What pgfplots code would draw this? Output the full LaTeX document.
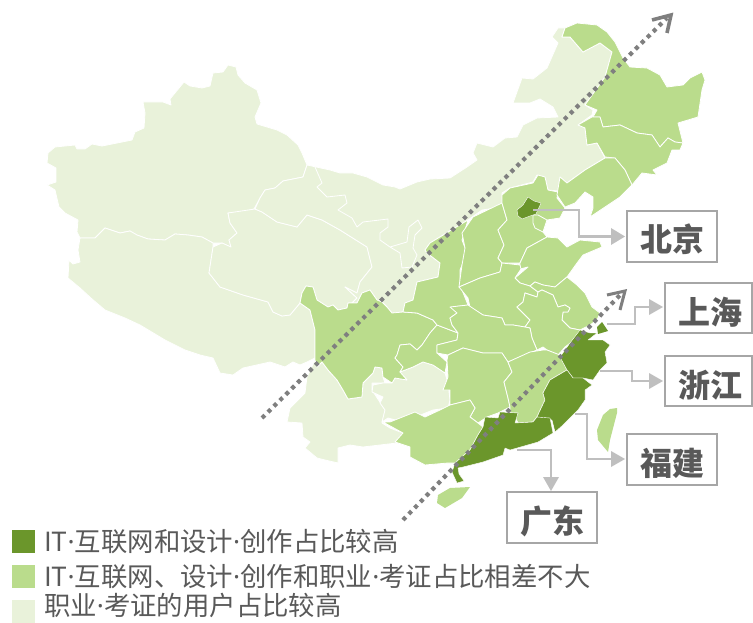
\documentclass[border=0pt]{standalone}
\usepackage{pgfplots}
\pgfplotsset{compat=1.18}
\usepackage{fontspec}
\setmainfont{Noto Sans CJK SC}
\newfontfamily\lat{Noto Sans}
\newcommand{\dd}{{\lat ·}}
\definecolor{dk}{HTML}{6B962B}
\definecolor{md}{HTML}{BADC8C}
\definecolor{pl}{HTML}{E9F2DA}
\definecolor{ld}{HTML}{BFBFBF}
\definecolor{bx}{HTML}{A6A6A6}
\definecolor{dt}{HTML}{7F7F7F}
\definecolor{tx}{HTML}{595959}
\pgfplotsset{
 pale/.style={fill=pl,draw=white,line width=0.8pt,no markers,line join=round},
 med/.style={fill=md,draw=white,line width=0.8pt,no markers,line join=round},
 dark/.style={fill=dk,draw=white,line width=0.4pt,no markers,line join=round},
 wl/.style={draw=white,line width=0.8pt,no markers,line join=round},
 lead/.style={draw=ld,line width=2.9pt,no markers,line join=miter},
 head/.style={fill=ld,draw=none,no markers},
 dots/.style={draw=dt,line width=4.2pt,no markers,dash pattern=on 4pt off 4.33pt},
 ahd/.style={draw=dt,line width=3.6pt,no markers,line join=miter},
 bxs/.style={draw=bx,line width=2pt,fill=white,no markers},
 sq/.style={draw=none,no markers},
}
\begin{document}
\begin{tikzpicture}
\begin{axis}[width=753pt,height=623pt,scale only axis,xmin=0,xmax=753,ymin=0,ymax=623,y dir=reverse,hide axis,clip=false]
\addplot[draw=none,no markers] coordinates {(0,0)(753,623)};
% Xinjiang
\addplot[pale] coordinates {(143,102)(163,102)(171,105)(170,99)(184,82)(190,86)(202,88)(210,86)(213,73)(223,72)(228,65)(236,67)(238,75)(245,83)(257,90)(261,103)(255,117)(257,124)(277,130)(287,135)(298,145)(302,153)(307,165)(303,177)(293,179)(283,181)(275,188)(265,190)(260,198)(254,209)(243,212)(228,213)(230,223)(237,233)(229,240)(231,247)(222,243)(213,243)(202,237)(188,235)(175,234)(165,240)(148,239)(137,235)(130,231)(120,233)(105,228)(95,238)(80,238)(77,232)(78,220)(65,213)(59,207)(55,190)(47,185)(56,182)(56,168)(47,163)(48,153)(55,147)(75,145)(77,149)(85,149)(92,144)(102,146)(132,140)(135,132)(144,128)(145,113)} --cycle;
% Tibet
\addplot[pale] coordinates {(80,238)(78,250)(80,262)(73,264)(69,260)(68,278)(80,288)(92,299)(105,310)(125,318)(140,325)(165,340)(185,350)(200,355)(213,358)(220,373)(233,375)(243,368)(270,362)(285,367)(293,362)(300,365)(307,362)(315,358)(315,330)(310,310)(300,303)(290,315)(282,316)(273,312)(268,302)(243,295)(220,287)(209,273)(213,247)(213,243)(202,237)(188,235)(175,234)(165,240)(148,239)(137,235)(130,231)(120,233)(105,228)(95,238)} --cycle;
% Qinghai
\addplot[pale] coordinates {(213,247)(222,243)(231,247)(229,240)(237,233)(230,223)(228,213)(255,209)(262,212)(277,222)(297,227)(307,215)(322,220)(340,230)(367,247)(372,267)(360,282)(357,293)(345,287)(357,298)(347,308)(338,310)(333,305)(328,307)(317,300)(313,287)(306,286)(302,293)(300,303)(290,315)(282,316)(273,312)(268,302)(243,295)(220,287)(209,273)} --cycle;
% Gansu, Ningxia, Inner Mongolia
\addplot[pale] coordinates {(307,165)(330,170)(340,173)(353,173)(367,177)(383,185)(395,187)(400,189)(417,182)(430,179)(450,178)(467,167)(477,160)(473,153)(477,143)(493,147)(505,138)(517,137)(523,125)(537,118)(558,117)(553,107)(540,99)(530,103)(513,103)(522,78)(533,79)(547,68)(558,43)(552,37)(558,28)(565,28)(562,37)(570,37)(583,52)(600,43)(612,52)(605,77)(585,105)(593,110)(592,115)(578,125)(585,127)(587,145)(597,143)(605,158)(585,170)(567,183)(560,177)(558,191)(548,190)(545,177)(537,175)(533,182)(510,188)(502,193)(503,207)(482,210)(468,220)(430,243)(425,250)(427,253)(440,263)(438,277)(417,282)(413,300)(405,303)(403,312)(392,313)(387,307)(382,302)(377,300)(370,290)(362,293)(357,303)(348,303)(347,308)(357,298)(345,287)(357,293)(360,282)(372,267)(367,247)(340,230)(322,220)(307,215)(297,227)(277,222)(262,212)(255,209)(260,198)(265,190)(275,188)(283,181)(293,179)(303,177)} --cycle;
\addplot[wl] coordinates {(315,167)(322,183)(317,187)(327,197)(345,195)(347,203)(338,210)(352,218)(357,227)(363,222)(388,219)(388,227)(380,233)(380,240)(390,247)(407,242)(409,227)(418,220)(422,228)(415,235)(413,248)(417,255)(412,267)(402,268)(400,253)(390,247)};
% Yunnan
\addplot[pale] coordinates {(315,360)(307,377)(305,393)(290,408)(287,422)(302,423)(303,437)(310,442)(305,448)(317,458)(325,460)(338,463)(338,448)(350,445)(363,447)(380,445)(397,443)(403,433)(390,428)(382,423)(385,410)(372,390)(372,383)(385,383)(383,377)(382,368)(375,367)(373,373)(363,383)(362,397)(348,399)(343,390)(337,380)(328,370)(322,362)(317,367)} --cycle;
% Guizhou
\addplot[pale] coordinates {(400,372)(413,367)(423,362)(433,365)(445,373)(448,383)(450,400)(448,408)(433,410)(413,418)(403,422)(388,418)(382,422)(385,410)(380,403)(383,397)(372,392)(373,385)(383,383)(392,383)(395,378)(407,380)} --cycle;
% Sichuan
\addplot[med] coordinates {(300,303)(302,293)(306,286)(313,287)(317,300)(328,307)(333,305)(338,310)(347,308)(348,303)(357,303)(362,293)(370,290)(377,300)(382,302)(387,307)(392,313)(403,312)(417,313)(433,320)(437,325)(430,333)(422,345)(417,350)(410,344)(400,345)(397,355)(395,358)(403,367)(400,372)(407,380)(395,378)(392,383)(383,377)(382,368)(375,367)(373,373)(363,383)(362,397)(348,399)(343,390)(337,380)(328,370)(322,362)(317,367)(315,360)(315,330)(310,310)} --cycle;
% Chongqing
\addplot[med] coordinates {(437,325)(458,333)(457,340)(437,345)(437,353)(447,362)(445,373)(433,365)(423,362)(413,367)(400,372)(403,367)(395,358)(397,355)(400,345)(410,344)(417,350)(422,345)(430,333)} --cycle;
% Shaanxi
\addplot[med] coordinates {(430,243)(468,220)(462,240)(467,253)(460,270)(460,285)(468,305)(452,307)(457,313)(450,318)(452,325)(458,333)(437,325)(433,320)(417,313)(403,312)(405,303)(413,300)(417,282)(438,277)(440,263)(427,253)(425,250)} --cycle;
% Shanxi
\addplot[med] coordinates {(502,203)(473,217)(462,233)(465,248)(462,265)(459,287)(480,278)(500,272)(502,263)(498,258)(504,245)(498,230)(507,220)} --cycle;
% Hebei
\addplot[med] coordinates {(502,195)(510,188)(533,183)(538,175)(545,177)(548,190)(558,192)(557,198)(565,208)(560,218)(547,220)(543,232)(547,237)(527,248)(520,263)(502,263)(498,258)(504,245)(498,230)(507,220)(502,203)} --cycle;
% Tianjin
\addplot[med] coordinates {(533,215)(538,215)(547,220)(543,232)(535,228)(533,223)} --cycle;
% Shandong
\addplot[med] coordinates {(547,237)(558,238)(567,247)(580,240)(600,242)(602,247)(583,255)(577,263)(567,277)(555,287)(543,285)(535,282)(530,286)(520,283)(515,278)(528,267)(520,269)(520,263)(527,248)} --cycle;
% Henan
\addplot[med] coordinates {(459,287)(480,278)(500,272)(502,263)(520,265)(521,269)(515,278)(520,283)(530,286)(538,292)(537,297)(525,293)(523,302)(517,307)(522,312)(530,320)(525,327)(513,325)(505,325)(502,318)(483,315)(470,307)(468,298)} --cycle;
% Jiangsu
\addplot[med] coordinates {(530,286)(535,282)(543,285)(555,287)(567,277)(577,285)(585,293)(592,307)(600,313)(597,320)(590,325)(580,330)(570,328)(562,320)(563,312)(568,312)(570,308)(565,305)(558,307)(553,295)(542,290)(538,292)} --cycle;
% Anhui
\addplot[med] coordinates {(525,293)(537,297)(538,292)(542,290)(553,295)(558,307)(565,305)(570,308)(568,312)(563,312)(562,320)(570,328)(580,330)(577,338)(565,347)(558,355)(547,350)(543,347)(537,350)(532,338)(530,328)(525,327)(530,320)(522,312)(517,307)(523,302)} --cycle;
% Hubei
\addplot[med] coordinates {(450,307)(468,305)(483,315)(502,318)(505,325)(513,325)(525,327)(530,328)(532,338)(537,350)(508,362)(502,353)(483,353)(463,348)(448,355)(437,353)(437,345)(457,340)(458,333)(452,325)(450,318)(457,313)} --cycle;
% Hunan
\addplot[med] coordinates {(447,360)(448,355)(463,348)(483,353)(502,353)(508,362)(512,372)(504,382)(508,398)(510,407)(498,413)(487,417)(478,423)(470,417)(475,408)(470,400)(450,405)(450,390)(443,390)(448,377)} --cycle;
% Jiangxi
\addplot[med] coordinates {(508,362)(530,352)(543,350)(547,350)(560,355)(567,370)(550,380)(543,393)(545,400)(537,417)(533,422)(518,423)(515,417)(518,413)(510,413)(510,407)(508,398)(504,382)(512,372)} --cycle;
% Guangxi
\addplot[med] coordinates {(383,422)(390,422)(400,418)(415,412)(425,417)(440,410)(450,405)(470,400)(475,408)(470,417)(478,423)(483,427)(478,435)(470,450)(455,463)(448,463)(425,465)(410,457)(410,447)(395,442)(403,433)} --cycle;
% Heilongjiang
\addplot[med] coordinates {(565,28)(577,23)(597,25)(607,32)(615,42)(623,58)(630,67)(647,68)(660,75)(667,87)(683,85)(690,78)(702,72)(705,80)(702,90)(698,117)(678,123)(683,143)(675,142)(668,138)(660,147)(652,135)(637,133)(620,125)(603,127)(600,117)(593,117)(597,110)(585,105)(605,77)(612,52)(600,43)(583,52)(570,37)(562,37)} --cycle;
% Jilin
\addplot[med] coordinates {(578,125)(592,117)(600,117)(603,127)(620,125)(637,133)(652,135)(660,147)(668,138)(675,142)(683,143)(680,150)(672,150)(667,163)(653,170)(657,175)(642,173)(632,185)(625,170)(615,158)(605,157)(597,143)(587,145)(585,128)} --cycle;
% Liaoning
\addplot[med] coordinates {(605,158)(615,158)(625,170)(632,185)(620,197)(605,207)(590,217)(593,208)(593,197)(585,192)(575,203)(565,207)(557,195)(560,177)(567,183)(585,170)} --cycle;
% Taiwan
\addplot[fill=md,draw=none,no markers] coordinates {(617,408)(617,413)(610,440)(608,452)(598,440)(597,430)(603,415)(610,409)} --cycle;
% Hainan
\addplot[fill=md,draw=none,no markers] coordinates {(470,487)(462,498)(445,508)(437,503)(438,495)(450,488)} --cycle;
% Dark provinces
\addplot[dark] coordinates {(517,210)(523,205)(528,197)(534,201)(541,203)(536,214)(530,216)(522,219)(518,216)} --cycle;
\addplot[dark] coordinates {(560,357)(570,343)(580,330)(590,333)(597,333)(588,340)(603,340)(610,345)(605,352)(607,363)(600,370)(593,380)(583,378)(573,378)(567,370)} --cycle;
\addplot[fill=dk,draw=none,no markers] coordinates {(597,327)(602,322)(608,331)(598,334)} --cycle;
\addplot[dark] coordinates {(567,370)(573,378)(583,378)(592,385)(585,390)(585,400)(578,410)(563,425)(555,432)(552,420)(537,417)(545,400)(543,393)(550,380)} --cycle;
\addplot[dark] coordinates {(485,417)(498,418)(500,412)(518,413)(515,423)(533,422)(537,417)(550,418)(553,433)(538,442)(510,450)(505,448)(503,455)(483,462)(463,467)(458,468)(459,474)(464,481)(457,483)(452,472)(455,463)(470,450)(478,435)(483,427)} --cycle;
% Leaders
\addplot[lead] coordinates {(533,210)(579,210)(579,236.5)(612,236.5)};
\addplot[head] coordinates {(611,228)(625,236.5)(611,245)} --cycle;
\addplot[lead] coordinates {(607,324)(635,324)(635,307)(650,307)};
\addplot[head] coordinates {(649,299)(663,307)(649,315)} --cycle;
\addplot[lead] coordinates {(600,371)(632,371)(632,381)(650,381)};
\addplot[head] coordinates {(649,373)(663,381)(649,389)} --cycle;
\addplot[lead] coordinates {(575,414)(587,414)(587,459)(612,459)};
\addplot[head] coordinates {(611,451)(625,459)(611,467)} --cycle;
\addplot[lead] coordinates {(517,450)(551,450)(551,478)};
\addplot[head] coordinates {(543,477)(551,491)(559,477)} --cycle;
% Dotted arrows
\addplot[dots] coordinates {(262,418)(667,18)};
\addplot[ahd] coordinates {(652,20)(671,15)(667,33)};
\addplot[dots] coordinates {(403,520)(622,293)};
\addplot[ahd,line width=3pt] coordinates {(607,295)(625,291)(620,310)};
% Boxes
\addplot[bxs] coordinates {(665,283)(752,283)(752,333)(665,333)} --cycle;
\addplot[bxs] coordinates {(665,356)(752,356)(752,406)(665,406)} --cycle;
\addplot[bxs] coordinates {(627,211)(717,211)(717,262)(627,262)} --cycle;
\addplot[bxs] coordinates {(627,434)(717,434)(717,485)(627,485)} --cycle;
\addplot[bxs] coordinates {(507,492)(597,492)(597,543)(507,543)} --cycle;
\node[font=\fontsize{32}{34}\selectfont\bfseries,text=tx,anchor=center,inner sep=0] at (axis cs:672,239) {北京};
\node[font=\fontsize{32}{34}\selectfont\bfseries,text=tx,anchor=center,inner sep=0] at (axis cs:710,312) {上海};
\node[font=\fontsize{32}{34}\selectfont\bfseries,text=tx,anchor=center,inner sep=0] at (axis cs:710,385) {浙江};
\node[font=\fontsize{32}{34}\selectfont\bfseries,text=tx,anchor=center,inner sep=0] at (axis cs:672,463) {福建};
\node[font=\fontsize{32}{34}\selectfont\bfseries,text=tx,anchor=center,inner sep=0] at (axis cs:552,521) {广东};
% Legend
\addplot[sq,fill=dk] coordinates {(12,530)(35,530)(35,553)(12,553)} --cycle;
\addplot[sq,fill=md] coordinates {(12,565)(35,565)(35,588)(12,588)} --cycle;
\addplot[sq,fill=pl] coordinates {(12,600)(35,600)(35,623)(12,623)} --cycle;
\node[font=\fontsize{26.4}{27}\selectfont,text=tx,anchor=base west,inner sep=0] at (axis cs:44,551) {IT\dd 互联网和设计\dd 创作占比较高};
\node[font=\fontsize{26.4}{27}\selectfont,text=tx,anchor=base west,inner sep=0] at (axis cs:44,586) {IT\dd 互联网、设计\dd 创作和职业\dd 考证占比相差不大};
\node[font=\fontsize{26.4}{27}\selectfont,text=tx,anchor=base west,inner sep=0] at (axis cs:44,615) {职业\dd 考证的用户占比较高};
\end{axis}
\end{tikzpicture}
\end{document}
